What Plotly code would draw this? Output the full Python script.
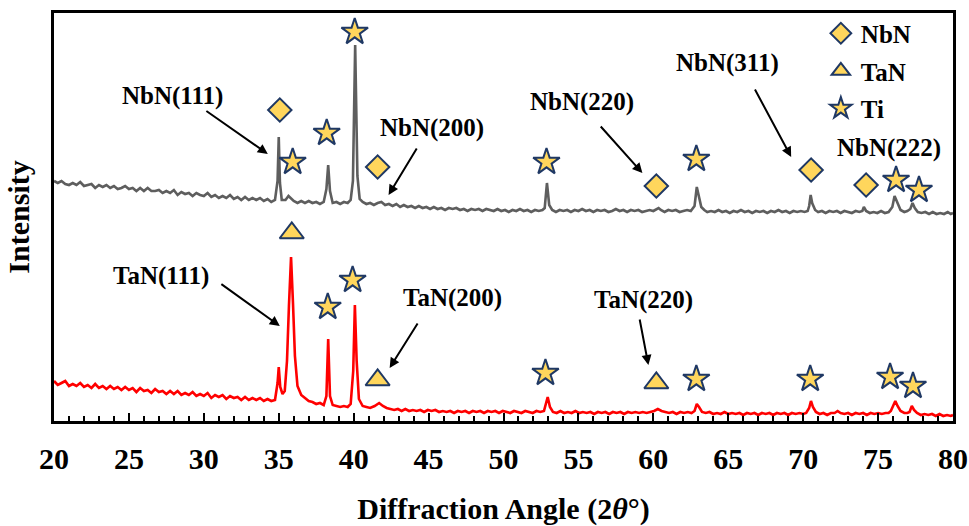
import plotly.graph_objects as go

# ---------------- data ----------------
# upper (gray) pattern: (2-theta, intensity)
gray_pts = [
    (20.0, 240), (20.25, 238), (20.5, 240), (20.75, 237), (21.0, 236), (21.25, 238), (21.5, 236), (21.75, 239),
    (22.0, 235), (22.25, 236), (22.5, 237), (22.75, 233), (23.0, 236), (23.25, 234), (23.5, 236), (23.75, 233),
    (24.0, 235), (24.25, 232), (24.5, 233), (24.75, 235), (25.0, 232), (25.25, 233), (25.5, 230), (25.75, 233),
    (26.0, 230), (26.25, 233), (26.5, 230), (26.75, 230), (27.0, 231), (27.25, 228), (27.5, 230), (27.75, 228),
    (28.0, 231), (28.25, 226), (28.5, 229), (28.75, 227), (29.0, 228), (29.25, 225), (29.5, 228), (29.75, 226),
    (30.0, 225), (30.25, 228), (30.5, 224), (30.75, 226), (31.0, 223), (31.25, 225), (31.5, 223), (31.75, 226),
    (32.0, 222), (32.25, 224), (32.5, 221), (32.75, 224), (33.0, 221), (33.25, 223), (33.5, 221), (33.75, 223),
    (34.0, 220), (34.25, 222), (34.5, 219), (34.75, 221), (34.92, 240), (35.0, 284), (35.08, 238), (35.2, 221),
    (35.45, 221), (35.65, 225), (35.8, 223), (36.0, 220), (36.25, 218), (36.5, 220), (36.75, 218), (37.0, 220),
    (37.25, 218), (37.5, 219), (37.75, 217), (38.0, 219), (38.18, 232), (38.3, 256), (38.42, 230), (38.6, 218),
    (38.85, 219), (39.1, 217), (39.35, 219), (39.6, 218), (39.8, 221), (39.95, 240), (40.1, 376), (40.25, 245),
    (40.4, 222), (40.6, 219), (40.85, 217), (41.1, 218), (41.35, 216), (41.6, 218), (41.85, 219), (42.1, 216),
    (42.35, 217), (42.6, 215), (42.85, 217), (43.1, 214), (43.35, 216), (43.6, 214), (43.85, 215), (44.1, 213),
    (44.35, 215), (44.6, 213), (44.85, 214), (45.1, 212), (45.35, 214), (45.6, 212), (45.85, 213), (46.1, 211),
    (46.35, 213), (46.6, 212), (46.85, 213), (47.1, 211), (47.35, 212), (47.6, 210), (47.85, 212), (48.1, 211),
    (48.35, 212), (48.6, 210), (48.85, 212), (49.1, 211), (49.35, 210), (49.6, 212), (49.85, 210), (50.1, 211),
    (50.35, 209), (50.6, 211), (50.85, 210), (51.1, 212), (51.35, 210), (51.6, 211), (51.85, 209), (52.1, 211),
    (52.35, 210), (52.6, 211), (52.75, 213), (52.9, 238), (53.05, 216), (53.25, 211), (53.5, 209), (53.75, 211),
    (54.0, 210), (54.25, 211), (54.5, 209), (54.75, 211), (55.0, 210), (55.25, 212), (55.5, 210), (55.75, 211),
    (56.0, 209), (56.25, 211), (56.5, 210), (56.75, 211), (57.0, 209), (57.25, 210), (57.5, 212), (57.75, 210),
    (58.0, 211), (58.25, 209), (58.5, 211), (58.75, 210), (59.0, 211), (59.25, 209), (59.5, 210), (59.75, 211),
    (60.0, 210), (60.2, 212), (60.35, 213), (60.5, 211), (60.75, 209), (61.0, 211), (61.25, 210), (61.5, 211),
    (61.75, 209), (62.0, 210), (62.25, 211), (62.5, 210), (62.75, 215), (62.9, 234), (63.05, 224), (63.2, 214),
    (63.4, 211), (63.6, 209), (63.85, 210), (64.1, 209), (64.35, 211), (64.6, 209), (64.85, 210), (65.1, 208),
    (65.35, 210), (65.6, 209), (65.85, 211), (66.1, 209), (66.35, 210), (66.6, 208), (66.85, 210), (67.1, 209),
    (67.35, 210), (67.6, 208), (67.85, 210), (68.1, 209), (68.35, 211), (68.6, 209), (68.85, 210), (69.1, 208),
    (69.35, 210), (69.6, 209), (69.85, 210), (70.1, 209), (70.3, 210), (70.4, 215), (70.5, 226), (70.6, 218),
    (70.8, 211), (71.0, 209), (71.25, 210), (71.5, 208), (71.75, 210), (72.0, 209), (72.25, 210), (72.5, 208),
    (72.75, 210), (73.0, 209), (73.25, 208), (73.5, 210), (73.75, 209), (73.95, 210), (74.05, 214), (74.2, 210),
    (74.45, 208), (74.7, 209), (74.95, 208), (75.2, 210), (75.45, 208), (75.7, 209), (75.95, 214), (76.1, 225),
    (76.25, 219), (76.5, 211), (76.75, 209), (76.95, 210), (77.15, 212), (77.3, 218), (77.45, 213), (77.65, 209),
    (77.9, 208), (78.15, 209), (78.4, 207), (78.65, 209), (78.9, 207), (79.15, 208), (79.4, 207), (79.65, 209),
    (79.85, 207), (80.0, 208),
]
# lower (red) pattern: (2-theta, intensity)
red_pts = [
    (20.0, 40), (20.25, 36), (20.5, 38), (20.75, 40), (21.0, 35), (21.25, 37), (21.5, 35), (21.75, 38),
    (22.0, 34), (22.25, 36), (22.5, 33), (22.75, 37), (23.0, 33), (23.25, 35), (23.5, 32), (23.75, 35),
    (24.0, 32), (24.25, 34), (24.5, 31), (24.75, 34), (25.0, 31), (25.25, 33), (25.5, 29), (25.75, 33),
    (26.0, 30), (26.25, 31), (26.5, 28), (26.75, 32), (27.0, 29), (27.25, 30), (27.5, 27), (27.75, 30),
    (28.0, 27), (28.25, 30), (28.5, 26), (28.75, 28), (29.0, 26), (29.25, 29), (29.5, 25), (29.75, 27),
    (30.0, 25), (30.25, 28), (30.5, 23), (30.75, 26), (31.0, 24), (31.25, 26), (31.5, 22), (31.75, 25),
    (32.0, 23), (32.25, 24), (32.5, 21), (32.75, 24), (33.0, 21), (33.25, 23), (33.5, 21), (33.75, 23),
    (34.0, 20), (34.25, 22), (34.5, 20), (34.75, 21), (34.92, 38), (35.0, 54), (35.1, 34), (35.25, 27),
    (35.4, 30), (35.55, 60), (35.68, 115), (35.82, 164), (35.95, 118), (36.08, 65), (36.25, 35), (36.5, 26),
    (36.75, 23), (37.0, 20), (37.25, 19), (37.5, 17), (37.75, 18), (38.0, 16), (38.18, 25), (38.3, 82),
    (38.42, 25), (38.6, 16), (38.85, 15), (39.1, 14), (39.35, 15), (39.6, 14), (39.8, 17), (39.97, 50),
    (40.08, 116), (40.2, 60), (40.35, 22), (40.6, 15), (40.85, 14), (41.1, 13), (41.4, 15), (41.7, 18),
    (41.95, 15), (42.2, 13), (42.45, 12), (42.7, 11), (42.95, 12), (43.2, 10), (43.45, 12), (43.7, 10),
    (43.95, 11), (44.2, 10), (44.45, 11), (44.7, 9), (44.95, 11), (45.2, 10), (45.45, 11), (45.7, 9),
    (45.95, 10), (46.2, 9), (46.45, 10), (46.7, 8), (46.95, 10), (47.2, 9), (47.45, 10), (47.7, 8),
    (47.95, 10), (48.2, 9), (48.45, 10), (48.7, 8), (48.95, 10), (49.2, 9), (49.45, 10), (49.7, 8),
    (49.95, 10), (50.2, 9), (50.45, 8), (50.7, 10), (50.95, 9), (51.2, 8), (51.45, 10), (51.7, 9),
    (51.95, 8), (52.2, 10), (52.45, 9), (52.7, 10), (52.85, 18), (52.95, 24), (53.1, 14), (53.3, 9),
    (53.55, 8), (53.8, 10), (54.05, 8), (54.3, 9), (54.55, 8), (54.8, 10), (55.05, 8), (55.3, 9),
    (55.55, 8), (55.8, 9), (56.05, 7), (56.3, 9), (56.55, 8), (56.8, 9), (57.05, 7), (57.3, 9),
    (57.55, 8), (57.8, 9), (58.05, 7), (58.3, 9), (58.55, 8), (58.8, 9), (59.05, 8), (59.3, 9),
    (59.55, 8), (59.8, 9), (60.05, 10), (60.3, 12), (60.55, 10), (60.8, 9), (61.05, 8), (61.3, 9),
    (61.55, 7), (61.8, 9), (62.05, 8), (62.3, 9), (62.55, 8), (62.75, 10), (62.9, 17), (63.05, 14),
    (63.25, 9), (63.5, 8), (63.75, 9), (64.0, 7), (64.25, 8), (64.5, 7), (64.75, 9), (65.0, 7),
    (65.25, 8), (65.5, 7), (65.75, 8), (66.0, 6), (66.25, 8), (66.5, 7), (66.75, 8), (67.0, 6),
    (67.25, 8), (67.5, 7), (67.75, 8), (68.0, 6), (68.25, 8), (68.5, 7), (68.75, 8), (69.0, 6),
    (69.25, 8), (69.5, 7), (69.75, 8), (70.0, 7), (70.2, 8), (70.4, 13), (70.52, 20), (70.65, 14),
    (70.85, 9), (71.1, 7), (71.35, 8), (71.6, 6), (71.85, 8), (72.1, 8), (72.3, 10), (72.5, 8),
    (72.75, 7), (73.0, 8), (73.25, 6), (73.5, 8), (73.75, 7), (74.0, 8), (74.25, 6), (74.5, 8),
    (74.75, 7), (75.0, 8), (75.25, 7), (75.5, 8), (75.7, 8), (75.85, 10), (76.05, 17), (76.15, 20),
    (76.3, 15), (76.5, 10), (76.75, 8), (76.95, 8), (77.1, 9), (77.25, 15), (77.4, 11), (77.6, 8),
    (77.85, 6), (78.1, 7), (78.35, 6), (78.6, 7), (78.85, 5), (79.1, 7), (79.35, 5), (79.6, 6),
    (79.85, 5), (80.0, 6),
]
gray_x = [p[0] for p in gray_pts]
gray_y = [p[1] for p in gray_pts]
red_x = [p[0] for p in red_pts]
red_y = [p[1] for p in red_pts]

# phase markers
nbn_x = [35.07, 41.6, 60.2, 70.53, 74.2]
nbn_y = [311, 254, 235, 251, 236]
tan_x = [35.87, 41.6, 60.2]
tan_y = [188, 41, 38]
ti_x = [35.93, 38.2, 40.07, 52.87, 62.87, 76.2, 77.73,
        38.27, 39.93, 52.8, 62.87, 70.47, 75.8, 77.33]
ti_y = [259, 288, 389, 259, 262, 241, 231,
        114, 141, 48, 42, 42, 44, 35]

# peak labels: text, text position, arrow tail, arrow head (None = no arrow)
label_text = ["NbN(111)", "NbN(200)", "NbN(220)", "NbN(311)", "NbN(222)",
              "TaN(111)", "TaN(200)", "TaN(220)"]
label_pos = [(27.93, 325), (45.2, 293), (55.27, 319), (64.93, 358), (75.73, 273),
             (27.13, 145), (46.6, 123), (59.33, 121)]
arrow_tail = [(30.07, 311), (44.27, 274), (56.4, 296), (66.73, 333), None,
              (31.07, 138), (44.33, 99), (59.07, 103)]
arrow_head = [(34.27, 267), (42.33, 226), (59.27, 248), (69.2, 264), None,
              (35.07, 95), (42.4, 53), (59.67, 56)]

# ---------------- styling ----------------
SERIF = "Liberation Serif, Times New Roman, serif"
GOLD = "#FFD65C"
NAVY = "#1F3864"

fig = go.Figure()
fig.add_trace(go.Scatter(x=gray_x, y=gray_y, mode="lines", line=dict(color="#5E5E5E", width=2.6),
                         showlegend=False, hoverinfo="skip"))
fig.add_trace(go.Scatter(x=red_x, y=red_y, mode="lines", line=dict(color="#FF0000", width=2.6),
                         showlegend=False, hoverinfo="skip"))

mk_line = dict(color=NAVY, width=2)
fig.add_trace(go.Scatter(x=nbn_x, y=nbn_y, mode="markers", name="NbN", legendgroup="a",
                         marker=dict(symbol="diamond", size=18, color=GOLD, line=mk_line)))
fig.add_trace(go.Scatter(x=tan_x, y=tan_y, mode="markers", name="TaN", legendgroup="b",
                         marker=dict(symbol="triangle-up", size=21, color=GOLD, line=mk_line)))
fig.add_trace(go.Scatter(x=ti_x, y=ti_y, mode="markers", name="Ti", legendgroup="c",
                         marker=dict(symbol="star", size=20, color=GOLD, line=mk_line)))

annotations = []
for t, p, tail, head in zip(label_text, label_pos, arrow_tail, arrow_head):
    annotations.append(dict(x=p[0], y=p[1], xref="x", yref="y", text=t, showarrow=False,
                            font=dict(family=SERIF, size=25, color="black", weight="bold")))
    if head is not None:
        annotations.append(dict(x=head[0], y=head[1], ax=tail[0], ay=tail[1], xref="x", yref="y",
                                axref="x", ayref="y", text="", showarrow=True, arrowhead=2,
                                arrowsize=1, arrowwidth=2, arrowcolor="black", standoff=0,
                                startstandoff=0))

fig.update_layout(
    width=969, height=526,
    margin=dict(l=54, r=16, t=13, b=105, autoexpand=False),
    paper_bgcolor="white", plot_bgcolor="white",
    annotations=annotations,
    legend=dict(x=0.853, y=1.006, xanchor="left", yanchor="top", bgcolor="rgba(0,0,0,0)",
                font=dict(family=SERIF, size=25, color="black", weight="bold"),
                tracegroupgap=2),
)
fig.update_xaxes(
    range=[20, 80], tick0=20, dtick=5, ticks="inside", ticklen=8, tickwidth=1.5, tickcolor="black",
    showline=True, linewidth=2.5, linecolor="black", mirror=True, showgrid=False, zeroline=False,
    automargin=False,
    tickfont=dict(family=SERIF, size=30, color="black", weight="bold"), ticklabelstandoff=9,
    minor=dict(dtick=1, ticks="inside", ticklen=5, tickwidth=1.5, tickcolor="black", showgrid=False),
    title=dict(text="Diffraction Angle (2<i>θ</i>°)", standoff=29,
               font=dict(family=SERIF, size=30, color="black", weight="bold")),
)
fig.update_yaxes(
    range=[0, 408], showticklabels=False, ticks="", showline=True, linewidth=2.5, linecolor="black",
    mirror=True, showgrid=False, zeroline=False, automargin=False,
    title=dict(text="Intensity", standoff=13,
               font=dict(family=SERIF, size=30, color="black", weight="bold")),
)

fig.write_html("out.html", config={"displayModeBar": False},
               post_script="document.body.style.margin='0';")
